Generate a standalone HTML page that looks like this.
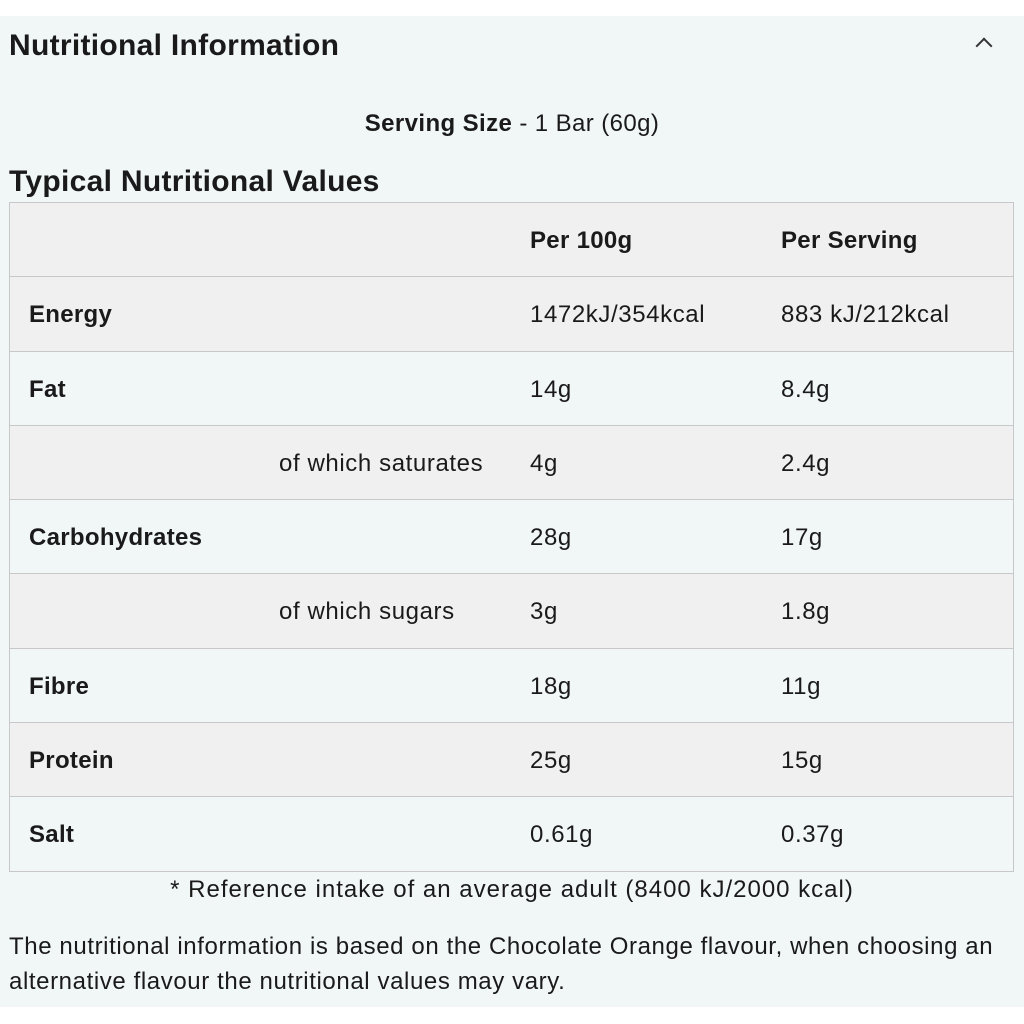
<!DOCTYPE html>
<html><head><style>
body{margin:0;width:1024px;height:1024px;background:#fff;font-family:"Liberation Sans",sans-serif;color:#1a1a1a;position:relative;overflow:hidden}
.panel{position:absolute;left:0;top:16px;width:1024px;height:991px;background:#f1f6f7}
.t{position:absolute;white-space:nowrap}
.h1{left:9px;top:29px;font-size:30px;font-weight:bold;letter-spacing:0.3px}
.chev{right:34px;top:40px;width:10px;height:10px;border-left:2.5px solid #333;border-top:2.5px solid #333;transform:rotate(45deg);position:absolute}
.serv{left:0;width:1024px;text-align:center;top:110px;font-size:24px;letter-spacing:0.4px}
.h2{left:9px;top:165px;font-size:30px;font-weight:bold;letter-spacing:0.3px}
.tbl{position:absolute;left:9px;top:202px;width:1003px;border:1px solid #c8c8c8;border-bottom:none}
.row{height:73.3px;border-bottom:1px solid #c8c8c8;position:relative;font-size:24px;letter-spacing:0.6px}
.g{background:#f0f0f0}
.row span{position:absolute;top:24px;white-space:nowrap}
.b{font-weight:bold;letter-spacing:0.3px}
.c1{left:19px}.cs{left:269px}.c2{left:520px}.c3{left:771px}
.note{left:0;width:1024px;text-align:center;top:876px;font-size:24px;letter-spacing:1px}
.p{left:9px;top:929px;font-size:24px;line-height:35px;white-space:normal;width:1015px;letter-spacing:0.6px}
</style></head><body>
<div class="panel"></div>
<div class="t h1">Nutritional Information</div>
<div class="chev"></div>
<div class="t serv"><b>Serving Size</b> - 1 Bar (60g)</div>
<div class="t h2">Typical Nutritional Values</div>
<div class="tbl">
<div class="row g"><span class="c2 b">Per 100g</span><span class="c3 b">Per Serving</span></div>
<div class="row g"><span class="c1 b">Energy</span><span class="c2">1472kJ/354kcal</span><span class="c3">883 kJ/212kcal</span></div>
<div class="row"><span class="c1 b">Fat</span><span class="c2">14g</span><span class="c3">8.4g</span></div>
<div class="row g"><span class="cs">of which saturates</span><span class="c2">4g</span><span class="c3">2.4g</span></div>
<div class="row"><span class="c1 b">Carbohydrates</span><span class="c2">28g</span><span class="c3">17g</span></div>
<div class="row g"><span class="cs">of which sugars</span><span class="c2">3g</span><span class="c3">1.8g</span></div>
<div class="row"><span class="c1 b">Fibre</span><span class="c2">18g</span><span class="c3">11g</span></div>
<div class="row g"><span class="c1 b">Protein</span><span class="c2">25g</span><span class="c3">15g</span></div>
<div class="row"><span class="c1 b">Salt</span><span class="c2">0.61g</span><span class="c3">0.37g</span></div>
</div>
<div class="t note">* Reference intake of an average adult (8400 kJ/2000 kcal)</div>
<div class="t p">The nutritional information is based on the Chocolate Orange flavour, when choosing an alternative flavour the nutritional values may vary.</div>
</body></html>
